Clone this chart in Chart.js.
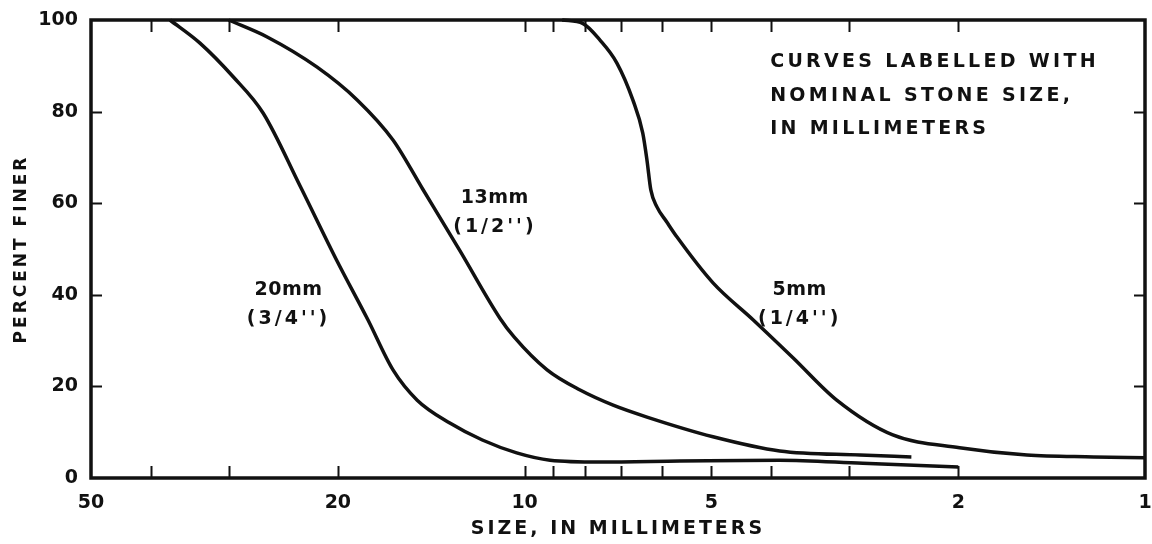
<!DOCTYPE html>
<html>
<head>
<meta charset="utf-8">
<title>Percent finer vs size</title>
<script src="https://cdn.jsdelivr.net/npm/chart.js@4.4.1/dist/chart.umd.min.js"></script>
<style>
  html, body { margin: 0; padding: 0; background: #fff; }
  #wrap { width: 1152px; height: 544px; }
</style>
</head>
<body>
<div id="wrap"><canvas id="grafico"></canvas></div>
<script>
// valores (tamanho em mm, % passante)
const tam20 = [37.3, 33.4, 29.5, 26.4, 23.0, 20.1, 17.9, 16.3, 14.9, 13.2, 11.7, 10.3, 9.1, 7.56, 5.62, 3.88, 2.85, 2.0];
const pas20 = [100, 95.0, 87.6, 79.7, 63.7, 47.6, 34.6, 23.6, 17.0, 12.0, 8.3, 5.5, 3.9, 3.5, 3.7, 3.9, 3.2, 2.4];

const tam13 = [30.0, 26.0, 21.6, 18.6, 16.3, 14.6, 12.71, 10.96, 10.4, 9.2, 8.14, 7.20, 6.35, 4.97, 3.88, 2.88, 2.38];
const pas13 = [100, 96.3, 89.7, 82.5, 73.8, 63.1, 49.6, 34.9, 30.8, 23.6, 19.2, 15.9, 13.3, 9.0, 5.9, 5.0, 4.6];

const tam5 = [8.7, 8.05, 7.56, 7.10, 6.69, 6.45, 6.35, 6.26, 6.12, 5.90, 5.68, 4.97, 4.28, 3.69, 3.14, 2.55, 1.99, 1.55, 1.21, 1.0];
const pas5 = [100, 99.2, 95.6, 90.6, 82.5, 75.3, 69.4, 62.9, 59.2, 55.9, 52.6, 42.6, 34.5, 26.2, 17.0, 9.4, 6.6, 5.0, 4.6, 4.4];

const ticksX = [50, 40, 30, 20, 10, 9, 8, 7, 6, 5, 4, 3, 2, 1];
const rotulosX = [50, 20, 10, 5, 2, 1];
const ticksY = [0, 20, 40, 60, 80, 100];

// rótulos das curvas (posição em mm / %)
const rotulosCurvas = [
    { linhas: ['20mm', "(3/4'')"], tam: 24.2, pas: 41.0 },
    { linhas: ['13mm', "(1/2'')"], tam: 11.25, pas: 61.1 },
    { linhas: ['5mm', "(1/4'')"], tam: 3.63, pas: 41.0 }
];
const nota = ['CURVES LABELLED WITH', 'NOMINAL STONE SIZE,', 'IN MILLIMETERS'];

const cor = '#111';
const fonte = "'DejaVu Sans', Verdana, sans-serif";

const pontos = (t, p) => t.map((v, i) => ({ x: v, y: p[i] }));

const molduraETicks = {
    id: 'molduraETicks',
    beforeLayout(chart) { chart.ctx.letterSpacing = '3px'; },
    beforeDraw(chart) { chart.ctx.letterSpacing = '3px'; },
    afterDatasetsDraw(chart) {
        const { ctx, chartArea: a, scales: { x, y } } = chart;
        ctx.save();
        ctx.strokeStyle = cor;
        ctx.lineWidth = 2;
        ctx.beginPath();
        ticksX.forEach(v => {
            if (v === 50 || v === 1) return;
            const px = Math.round(x.getPixelForValue(v)) + 0.5;
            ctx.moveTo(px, a.bottom); ctx.lineTo(px, a.bottom - 12);
            ctx.moveTo(px, a.top); ctx.lineTo(px, a.top + 12);
        });
        ticksY.forEach(v => {
            if (v === 0 || v === 100) return;
            const py = Math.round(y.getPixelForValue(v)) + 0.5;
            ctx.moveTo(a.left, py); ctx.lineTo(a.left + 11, py);
            ctx.moveTo(a.right, py); ctx.lineTo(a.right - 11, py);
        });
        ctx.stroke();
        ctx.lineWidth = 3.5;
        ctx.strokeRect(a.left, a.top, a.width, a.height);
        ctx.restore();
        // rótulos dos ticks (z = 1) sem espaçamento extra
        ctx.letterSpacing = '0px';
    },
    afterDraw(chart) {
        const { ctx, scales: { x, y } } = chart;
        ctx.save();
        ctx.fillStyle = cor;
        ctx.font = 'bold 19px ' + fonte;
        ctx.textBaseline = 'middle';
        ctx.textAlign = 'center';
        rotulosCurvas.forEach(r => {
            const px = x.getPixelForValue(r.tam);
            const py = y.getPixelForValue(r.pas);
            r.linhas.forEach((t, i) => {
                ctx.letterSpacing = i === 0 ? '0.5px' : '3px';
                ctx.fillText(t, px + 2, py + i * 29);
            });
        });
        ctx.textAlign = 'left';
        ctx.letterSpacing = '3.3px';
        const nx = x.getPixelForValue(4.02);
        const ny = y.getPixelForValue(90.8);
        nota.forEach((t, i) => ctx.fillText(t, nx, ny + i * 33.5));
        ctx.restore();
    }
};

const semPadding = s => { s.paddingLeft = 0; s.paddingRight = 0; s.paddingTop = 0; s.paddingBottom = 0; };

const ctx = document.getElementById('grafico').getContext('2d');
new Chart(ctx, {
    type: 'line',
    data: {
        datasets: [
            { label: '20mm', data: pontos(tam20, pas20), borderColor: cor },
            { label: '13mm', data: pontos(tam13, pas13), borderColor: cor },
            { label: '5mm', data: pontos(tam5, pas5), borderColor: cor }
        ]
    },
    options: {
        responsive: true,
        maintainAspectRatio: false,
        animation: false,
        layout: { padding: { top: 20, right: 7, left: 0, bottom: 0 } },
        datasets: {
            line: {
                borderWidth: 3.5,
                pointRadius: 0,
                cubicInterpolationMode: 'monotone',
                fill: false,
                clip: false
            }
        },
        plugins: {
            colors: { enabled: false },
            legend: { display: false },
            tooltip: { enabled: false }
        },
        scales: {
            x: {
                type: 'logarithmic',
                reverse: true,
                min: 1,
                max: 50,
                afterBuildTicks: s => { s.ticks = ticksX.map(v => ({ value: v })); },
                afterFit: s => { s.height = 66; semPadding(s); },
                grid: { display: false, drawTicks: false },
                border: { display: false },
                ticks: {
                    z: 1,
                    autoSkip: false,
                    maxRotation: 0,
                    padding: 14,
                    color: cor,
                    font: { family: fonte, size: 19, weight: 'bold' },
                    callback: v => rotulosX.includes(v) ? String(v) : ''
                },
                title: {
                    display: true,
                    text: 'SIZE, IN MILLIMETERS',
                    color: cor,
                    padding: { top: 0, bottom: 4 },
                    font: { family: fonte, size: 19, weight: 'bold' }
                }
            },
            y: {
                min: 0,
                max: 100,
                afterBuildTicks: s => { s.ticks = ticksY.map(v => ({ value: v })); },
                afterFit: s => { s.width = 91; semPadding(s); },
                grid: { display: false, drawTicks: false },
                border: { display: false },
                ticks: {
                    z: 1,
                    padding: 13,
                    color: cor,
                    font: { family: fonte, size: 19, weight: 'bold' }
                },
                title: {
                    display: true,
                    text: 'PERCENT FINER',
                    color: cor,
                    padding: { top: 11, bottom: 0 },
                    font: { family: fonte, size: 17, weight: 'bold' }
                }
            }
        }
    },
    plugins: [molduraETicks]
});
</script>
</body>
</html>
